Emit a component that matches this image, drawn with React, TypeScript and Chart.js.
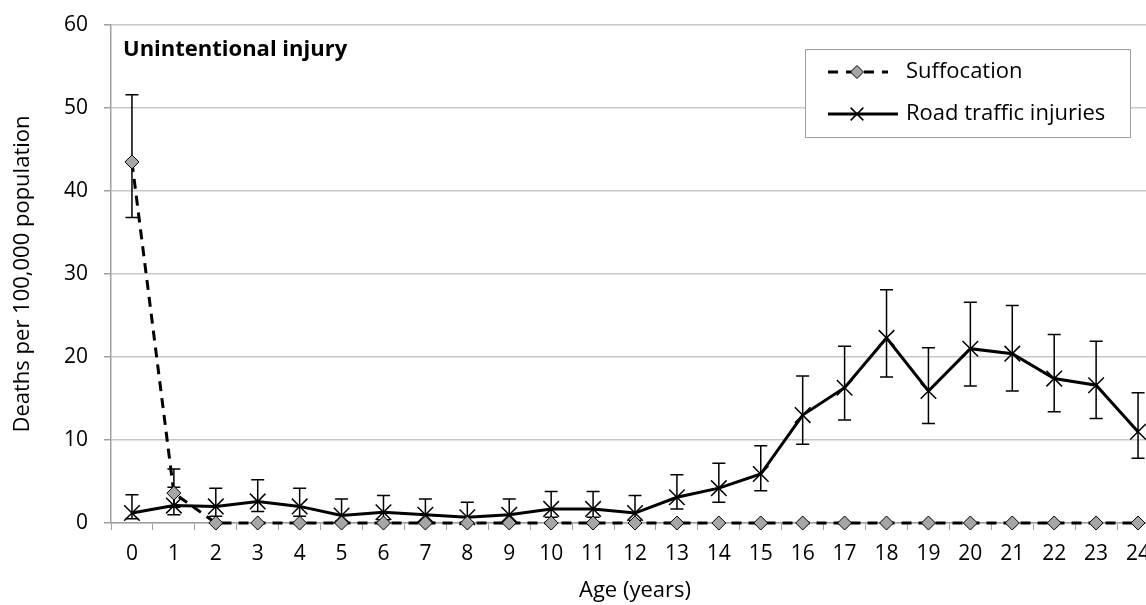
import React, { useEffect, useRef } from "react";
import { Chart, registerables } from "chart.js";

Chart.register(...registerables);

const ages = ["0", "1", "2", "3", "4", "5", "6", "7", "8", "9", "10", "11", "12", "13", "14", "15", "16", "17", "18", "19", "20", "21", "22", "23", "24"];

const suffocation = [43.5, 3.6, 0, 0, 0, 0, 0, 0, 0, 0, 0, 0, 0, 0, 0, 0, 0, 0, 0, 0, 0, 0, 0, 0, 0];
const suffocationLow = [36.8, 1.9, null, null, null, null, null, null, null, null, null, null, null, null, null, null, null, null, null, null, null, null, null, null, null];
const suffocationHigh = [51.6, 6.5, null, null, null, null, null, null, null, null, null, null, null, null, null, null, null, null, null, null, null, null, null, null, null];

const road = [1.2, 2.1, 2.0, 2.6, 2.0, 0.9, 1.3, 1.0, 0.7, 1.0, 1.7, 1.7, 1.2, 3.1, 4.2, 5.9, 13.0, 16.3, 22.3, 15.9, 21.0, 20.4, 17.4, 16.6, 11.0];
const roadLow = [0.5, 1.0, 0.8, 1.4, 0.8, 0.2, 0.4, 0.2, 0.1, 0.2, 0.7, 0.7, 0.3, 1.7, 2.5, 3.9, 9.5, 12.4, 17.6, 12.0, 16.5, 15.9, 13.4, 12.6, 7.8];
const roadHigh = [3.4, 4.3, 4.2, 5.2, 4.2, 2.9, 3.3, 2.9, 2.5, 2.9, 3.8, 3.8, 3.3, 5.8, 7.2, 9.3, 17.7, 21.3, 28.1, 21.1, 26.6, 26.2, 22.7, 21.9, 15.7];

const seriesNames = ["Suffocation", "Road traffic injuries"];
const panelTitle = "Unintentional injury";
const xTitle = "Age (years)";
const yTitle = "Deaths per 100,000 population";

const FONT = '"Open Sans", "Noto Sans", sans-serif';
const AXIS_GRAY = "#a0a0a0";
const GRID_GRAY = "#c8c8c8";
const MARKER_GRAY = "#a6a6a6";
const PLOT_RIGHT = 1159;

// Extends the plot area past the right edge of the picture, as in the original figure.
const extendRightPlugin = {
  id: "extendRight",
  afterLayout(chart: any) {
    const area = chart.chartArea;
    area.right = PLOT_RIGHT;
    area.width = PLOT_RIGHT - area.left;
    const xs = chart.scales.x;
    xs.right = PLOT_RIGHT;
    xs.width = PLOT_RIGHT - xs.left;
    xs.configure();
  },
};

const errorBarPlugin = {
  id: "errorBars",
  beforeDatasetsDraw(chart: any, _args: any, opts: any) {
    const { ctx } = chart;
    const yScale = chart.scales.y;
    (opts.series || []).forEach((s: any, i: number) => {
      const meta = chart.getDatasetMeta(i);
      meta.data.forEach((pt: any, j: number) => {
        const lo = s.low[j];
        const hi = s.high[j];
        if (lo == null || hi == null) return;
        const x = pt.x;
        const yl = yScale.getPixelForValue(lo);
        const yh = yScale.getPixelForValue(hi);
        const cap = 6.5;
        ctx.save();
        ctx.strokeStyle = "#000";
        ctx.lineWidth = 1.5;
        ctx.beginPath();
        ctx.moveTo(x, yl);
        ctx.lineTo(x, yh);
        ctx.moveTo(x - cap, yl);
        ctx.lineTo(x + cap, yl);
        ctx.moveTo(x - cap, yh);
        ctx.lineTo(x + cap, yh);
        ctx.stroke();
        ctx.restore();
      });
    });
  },
};

function drawDiamond(ctx: CanvasRenderingContext2D, x: number, y: number, r: number) {
  ctx.save();
  ctx.setLineDash([]);
  ctx.beginPath();
  ctx.moveTo(x - r, y);
  ctx.lineTo(x, y - r);
  ctx.lineTo(x + r, y);
  ctx.lineTo(x, y + r);
  ctx.closePath();
  ctx.fillStyle = MARKER_GRAY;
  ctx.fill();
  ctx.strokeStyle = "#000";
  ctx.lineWidth = 1;
  ctx.stroke();
  ctx.restore();
}

function drawCross(ctx: CanvasRenderingContext2D, x: number, y: number, r: number) {
  const o = r * Math.SQRT1_2;
  ctx.save();
  ctx.setLineDash([]);
  ctx.strokeStyle = "#000";
  ctx.lineWidth = 1.5;
  ctx.beginPath();
  ctx.moveTo(x - o, y - o);
  ctx.lineTo(x + o, y + o);
  ctx.moveTo(x - o, y + o);
  ctx.lineTo(x + o, y - o);
  ctx.stroke();
  ctx.restore();
}

const annotationPlugin = {
  id: "panelDecor",
  afterDraw(chart: any) {
    const { ctx, chartArea } = chart;
    ctx.save();
    ctx.font = `bold 22px ${FONT}`;
    ctx.fillStyle = "#000";
    ctx.textAlign = "left";
    ctx.textBaseline = "middle";
    ctx.fillText(panelTitle, chartArea.left + 12, chartArea.top + 25);

    const bx = chartArea.right - 354;
    const by = chartArea.top + 24;
    const bw = 325;
    const bh = 88;
    ctx.fillStyle = "#fff";
    ctx.fillRect(bx, by, bw, bh);
    ctx.strokeStyle = AXIS_GRAY;
    ctx.lineWidth = 1;
    ctx.strokeRect(bx + 0.5, by + 0.5, bw, bh);

    const x0 = bx + 23;
    const x1 = bx + 93;
    const xm = (x0 + x1) / 2;
    const row1 = by + 23;
    const row2 = by + 65;

    ctx.strokeStyle = "#000";
    ctx.lineWidth = 3;
    ctx.setLineDash([10, 8]);
    ctx.beginPath();
    ctx.moveTo(x0, row1);
    ctx.lineTo(x1 - 10, row1);
    ctx.stroke();
    ctx.setLineDash([]);
    drawDiamond(ctx, xm - 6, row1, 6.5);

    ctx.strokeStyle = "#000";
    ctx.lineWidth = 3;
    ctx.beginPath();
    ctx.moveTo(x0, row2);
    ctx.lineTo(x1, row2);
    ctx.stroke();
    drawCross(ctx, xm - 6, row2, 9);

    ctx.font = `22px ${FONT}`;
    ctx.fillStyle = "#000";
    ctx.textAlign = "left";
    ctx.textBaseline = "middle";
    ctx.fillText(seriesNames[0], bx + 101, row1);
    ctx.fillText(seriesNames[1], bx + 101, row2);
    ctx.restore();
  },
};

export default function App() {
  const canvasRef = useRef<HTMLCanvasElement | null>(null);

  useEffect(() => {
    if (!canvasRef.current) return;
    const chart = new Chart(canvasRef.current, {
      type: "line",
      data: {
        labels: ages,
        datasets: [
          {
            label: seriesNames[0],
            data: suffocation,
            borderColor: "#000",
            borderWidth: 3,
            borderDash: [10, 7],
            pointStyle: "rectRot",
            pointRadius: 7,
            pointBackgroundColor: MARKER_GRAY,
            pointBorderColor: "#000",
            pointBorderWidth: 1,
            fill: false,
            tension: 0,
            clip: false,
          },
          {
            label: seriesNames[1],
            data: road,
            borderColor: "#000",
            borderWidth: 3,
            pointStyle: "crossRot",
            pointRadius: 11,
            pointBorderColor: "#000",
            pointBorderWidth: 1.5,
            fill: false,
            tension: 0,
            clip: false,
          },
        ],
      },
      options: {
        animation: false,
        responsive: false,
        maintainAspectRatio: false,
        devicePixelRatio: 1,
        layout: { padding: { top: 25, right: 1, left: 0, bottom: 0 } },
        plugins: {
          legend: { display: false },
          tooltip: { enabled: false },
          errorBars: {
            series: [
              { low: suffocationLow, high: suffocationHigh },
              { low: roadLow, high: roadHigh },
            ],
          },
        } as any,
        scales: {
          x: {
            type: "category",
            offset: true,
            grid: {
              display: true,
              offset: true,
              drawOnChartArea: false,
              drawTicks: true,
              tickLength: 7,
              color: AXIS_GRAY,
              tickColor: AXIS_GRAY,
            },
            border: { color: AXIS_GRAY, width: 1.5 },
            ticks: {
              color: "#000",
              font: { family: FONT, size: 21 },
              padding: 11,
              maxRotation: 0,
              autoSkip: false,
            },
            title: {
              display: true,
              text: xTitle,
              color: "#000",
              font: { family: FONT, size: 22 },
              padding: { top: 0, bottom: 1 },
            },
            afterFit(scale: any) {
              scale.height = 82;
              scale.paddingLeft = 0;
              scale.paddingRight = 0;
            },
          },
          y: {
            min: 0,
            max: 60,
            grid: {
              color: GRID_GRAY,
              lineWidth: 1.5,
              tickLength: 7,
              tickColor: AXIS_GRAY,
            },
            border: { color: AXIS_GRAY, width: 1.5 },
            ticks: {
              stepSize: 10,
              color: "#000",
              font: { family: FONT, size: 21 },
              padding: 16,
            },
            title: {
              display: true,
              text: yTitle,
              color: "#000",
              font: { family: FONT, size: 22 },
              padding: { top: 10, bottom: 0 },
            },
            afterFit(scale: any) {
              scale.width = 111;
              scale.paddingTop = 0;
              scale.paddingBottom = 0;
            },
          },
        },
      },
      plugins: [extendRightPlugin, errorBarPlugin, annotationPlugin],
    });
    return () => chart.destroy();
  }, []);

  return (
    <div style={{ position: "fixed", left: 0, top: 0, width: 1146, height: 605, overflow: "hidden", background: "#fff" }}>
      <canvas ref={canvasRef} width={1160} height={605} style={{ display: "block", width: 1160, height: 605 }} />
    </div>
  );
}
